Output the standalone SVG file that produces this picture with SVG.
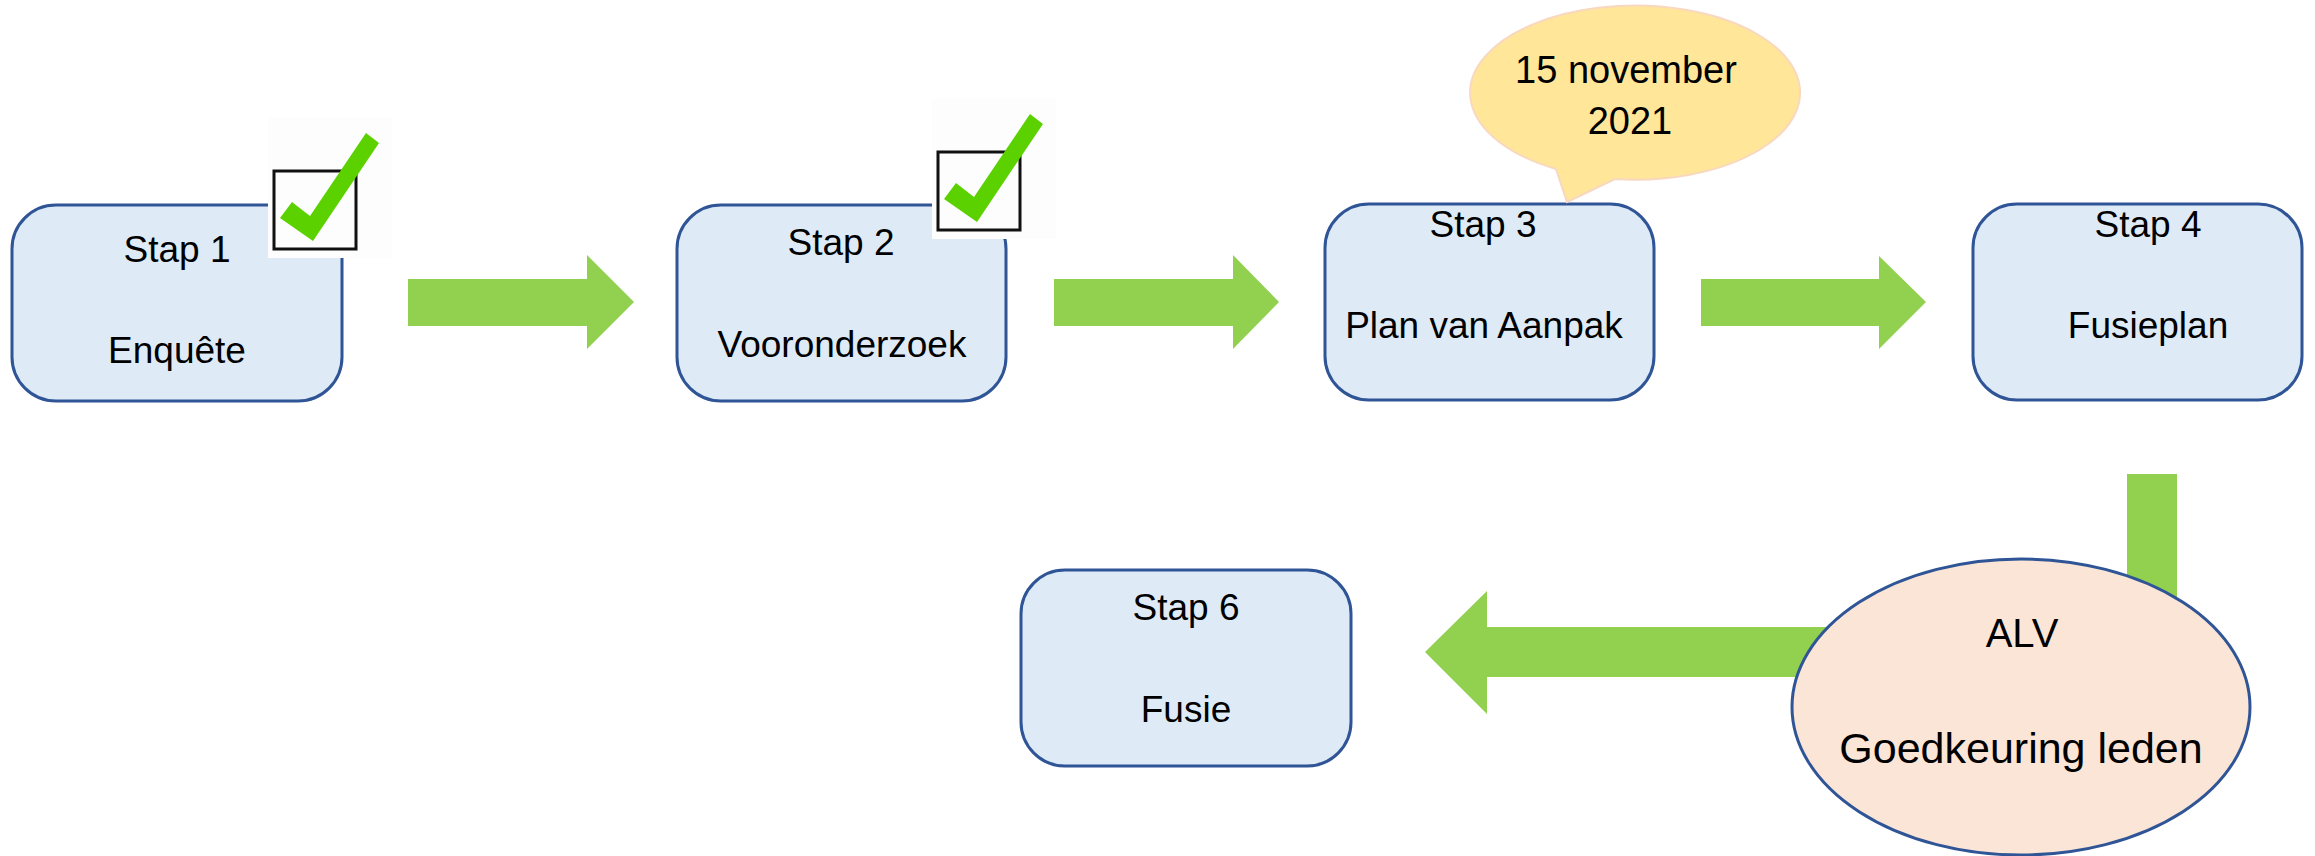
<svg xmlns="http://www.w3.org/2000/svg" width="2315" height="856" viewBox="0 0 2315 856">
<style>
.box{fill:#DEEBF7;stroke:#2F5597;stroke-width:3}
.arrow{fill:#92D050}
.t{font-family:"Liberation Sans",Arial,sans-serif;font-size:37px;fill:#000;text-anchor:middle}
.backing{fill:#FDFDFD}
.sq{fill:none;stroke:#111;stroke-width:3}
.chk{fill:#5BD200}
</style>
<defs>
<g id="check">
<rect class="backing" x="0" y="0" width="124" height="141"/>
<rect class="sq" x="6" y="54" width="82" height="78"/>
<polygon class="chk" points="24,85 42,99 98,16 111,26 45,124 12,101"/>
</g>
</defs>
<rect width="2315" height="856" fill="#FFFFFF"/>
<g id="connectors">
<polygon class="arrow" points="408,279 587,279 587,255 634,302 587,349 587,326 408,326"/>
<polygon class="arrow" points="1054,279 1233,279 1233,255 1279,302 1233,349 1233,326 1054,326"/>
<polygon class="arrow" points="1701,279 1879,279 1879,256 1926,302 1879,349 1879,326 1701,326"/>
<polygon class="arrow" points="2127,474 2177,474 2177,677 1487,677 1487,714 1425,652 1487,591 1487,627 2127,627"/>
</g>
<g id="stap1">
<rect class="box" x="12" y="205" width="330" height="196" rx="44" ry="44"/>
<text class="t" x="177" y="262">Stap 1</text>
<text class="t" x="177" y="363">Enquête</text>
</g>
<g id="check1"><use href="#check" x="268" y="117"/></g>
<g id="stap2">
<rect class="box" x="677" y="205" width="329" height="196" rx="44" ry="44"/>
<text class="t" x="841" y="255">Stap 2</text>
<text class="t" x="842" y="357">Vooronderzoek</text>
</g>
<g id="check2"><use href="#check" x="932" y="98"/></g>
<g id="stap3">
<rect class="box" x="1325" y="204" width="329" height="196" rx="44" ry="44"/>
<text class="t" x="1483" y="237">Stap 3</text>
<text class="t" x="1484" y="338">Plan van Aanpak</text>
</g>
<g id="bubble">
<path d="M1556,169 A165,87 0 1,1 1615,179 L1567,202 Z" fill="#FFE699" stroke="#F8D8C0" stroke-width="2"/>
<text class="t" x="1626" y="83" style="font-size:38px">15 november</text>
<text class="t" x="1630" y="134" style="font-size:38px">2021</text>
</g>
<g id="stap4">
<rect class="box" x="1973" y="204" width="329" height="196" rx="44" ry="44"/>
<text class="t" x="2148" y="237">Stap 4</text>
<text class="t" x="2148" y="338">Fusieplan</text>
</g>
<g id="stap6">
<rect class="box" x="1021" y="570" width="330" height="196" rx="44" ry="44"/>
<text class="t" x="1186" y="620">Stap 6</text>
<text class="t" x="1186" y="722">Fusie</text>
</g>
<g id="alv">
<ellipse cx="2021" cy="707" rx="229" ry="148" fill="#FBE5D6" stroke="#2F5597" stroke-width="3"/>
<text class="t" x="2022" y="647" style="font-size:40px">ALV</text>
<text class="t" x="2021" y="763" style="font-size:43px">Goedkeuring leden</text>
</g>
</svg>
